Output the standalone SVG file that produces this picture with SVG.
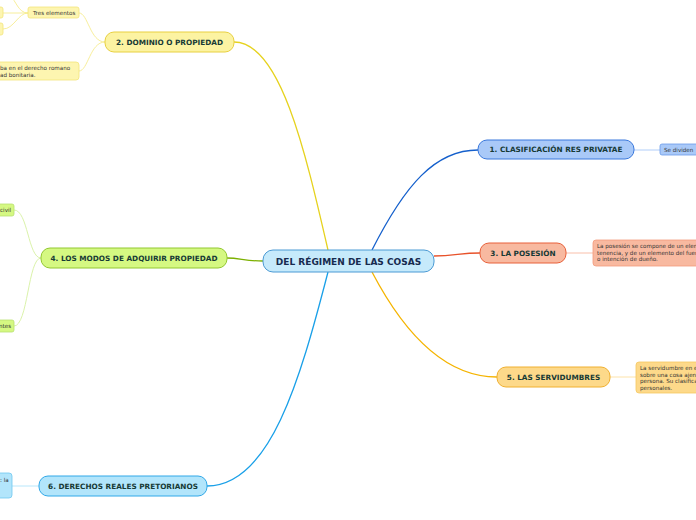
<svg xmlns="http://www.w3.org/2000/svg" width="696" height="520" viewBox="0 0 696 520">
<style>
.t{font-family:"DejaVu Sans",Verdana,sans-serif;font-weight:bold;fill:#173a35;text-anchor:middle;dominant-baseline:central;font-size:7.3px}
.s{font-family:"DejaVu Sans",Verdana,sans-serif;fill:#333;font-size:5.6px}
.c{fill:none;stroke-width:1.3}
.cl{fill:none;stroke-width:0.9}
</style>
<rect width="696" height="520" fill="#ffffff"/>
<g id="connectors">
<path class="c" d="M372,250 C405,185 435,150 478,150" stroke="#1560cc"/>
<path class="c" d="M434,256 C455,256 460,253 480,253" stroke="#e8522a"/>
<path class="c" d="M372,272 C405,335 445,377 497,377" stroke="#f5b400"/>
<path class="c" d="M328,250 C305,150 280,42 234,42" stroke="#e6d21e"/>
<path class="c" d="M263,261 C245,261 240,258 227,258" stroke="#7cb000"/>
<path class="c" d="M328,272 C300,380 270,486 207,486" stroke="#1aa0e8"/>
<path class="cl" d="M634,150 L660,150" stroke="#a8c8f8"/>
<path class="cl" d="M566,253 L593,253" stroke="#f8b8a0"/>
<path class="cl" d="M610,377 L636,377" stroke="#fde0a0"/>
<path class="cl" d="M105,42 C90,42 88,13 79,13" stroke="#f6ec90"/>
<path class="cl" d="M105,42 C90,42 88,71 79,71" stroke="#f6ec90"/>
<path class="cl" d="M28,13 C18,13 16,0 10,-4" stroke="#f6ec90"/>
<path class="cl" d="M28,13 L3,13" stroke="#f6ec90"/>
<path class="cl" d="M28,13 C18,13 14,29 3,29" stroke="#f6ec90"/>
<path class="cl" d="M41,258 C28,258 28,210 14,210" stroke="#d6f0a0"/>
<path class="cl" d="M41,258 C28,258 28,326 14,326" stroke="#d6f0a0"/>
<path class="cl" d="M39,486 L12,486" stroke="#b0e4fa"/>
</g>
<g id="central">
<rect x="263" y="250" width="171" height="22" rx="10" fill="#c6eafb" stroke="#4a9ad4" stroke-width="1"/>
<text class="t" x="348.5" y="261.5" style="fill:#172b4f;font-size:9px">DEL RÉGIMEN DE LAS COSAS</text>
</g>
<g id="n1">
<rect x="478" y="140" width="156" height="19" rx="9" fill="#a9c9f8" stroke="#3a78dc" stroke-width="1"/>
<text class="t" x="556" y="149.5">1. CLASIFICACIÓN RES PRIVATAE</text>
</g>
<g id="n1a">
<rect x="660" y="144" width="45" height="11" rx="2" fill="#a9c9f8" stroke="#6a9be8" stroke-width="0.8"/>
<text class="s" x="664" y="151.5">Se dividen</text>
</g>
<g id="n3">
<rect x="480" y="243" width="86" height="20" rx="9" fill="#f8b9a0" stroke="#e8603a" stroke-width="1"/>
<text class="t" x="523" y="253">3. LA POSESIÓN</text>
</g>
<g id="n3a">
<rect x="593" y="240" width="115" height="26" rx="3" fill="#f8b9a0" stroke="#f29a7c" stroke-width="0.8"/>
<text class="s" x="597" y="248">La posesión se compone de un elem</text>
<text class="s" x="597" y="254.5">tenencia, y de un elemento del fuer</text>
<text class="s" x="597" y="261">o intención de dueño.</text>
</g>
<g id="n5">
<rect x="497" y="367" width="113" height="20" rx="9" fill="#fdd98a" stroke="#f0b030" stroke-width="1"/>
<text class="t" x="553.5" y="377">5. LAS SERVIDUMBRES</text>
</g>
<g id="n5a">
<rect x="636" y="362" width="70" height="31" rx="3" fill="#fdd98a" stroke="#f5c860" stroke-width="0.8"/>
<text class="s" x="640" y="370">La servidumbre en e</text>
<text class="s" x="640" y="376.5">sobre una cosa ajen</text>
<text class="s" x="640" y="383">persona. Su clasifica</text>
<text class="s" x="640" y="389.5">personales.</text>
</g>
<g id="n2">
<rect x="105" y="32" width="129" height="20" rx="9" fill="#fcf3a2" stroke="#e8d040" stroke-width="1"/>
<text class="t" x="169.5" y="42">2. DOMINIO O PROPIEDAD</text>
</g>
<g id="n2a">
<rect x="28" y="7" width="51" height="11" rx="2" fill="#fdf5b0" stroke="#f2e47c" stroke-width="0.8"/>
<text class="s" x="33" y="14.5">Tres elementos</text>
</g>
<g id="n2a1">
<rect x="-20" y="7" width="23" height="11" rx="2" fill="#fdf5b0" stroke="#f2e47c" stroke-width="0.8"/>
</g>
<g id="n2a2">
<rect x="-20" y="23" width="23" height="12" rx="2" fill="#fdf5b0" stroke="#f2e47c" stroke-width="0.8"/>
</g>
<g id="n2b">
<rect x="-20" y="62" width="99" height="18" rx="3" fill="#fdf5b0" stroke="#f2e47c" stroke-width="0.8"/>
<text class="s" x="0" y="70">ba en el derecho romano</text>
<text class="s" x="0" y="76.5">ad bonitaria.</text>
</g>
<g id="n4">
<rect x="41" y="248" width="186" height="20" rx="9" fill="#d5f882" stroke="#92c830" stroke-width="1"/>
<text class="t" x="134" y="258">4. LOS MODOS DE ADQUIRIR PROPIEDAD</text>
</g>
<g id="n4a">
<rect x="-20" y="204" width="34" height="12" rx="2" fill="#d5f882" stroke="#b8e070" stroke-width="0.8"/>
<text class="s" x="0" y="211.8">civil</text>
</g>
<g id="n4b">
<rect x="-20" y="320" width="34" height="12" rx="2" fill="#d5f882" stroke="#b8e070" stroke-width="0.8"/>
<text class="s" x="-1" y="327.8">ntes</text>
</g>
<g id="n6">
<rect x="39" y="476" width="168" height="20" rx="9" fill="#b2e5fb" stroke="#30a8e8" stroke-width="1"/>
<text class="t" x="123" y="486">6. DERECHOS REALES PRETORIANOS</text>
</g>
<g id="n6a">
<rect x="-20" y="473" width="32" height="25" rx="3" fill="#b2e5fb" stroke="#70c8f0" stroke-width="0.8"/>
<text class="s" x="0" y="481.5">: la</text>
</g>
</svg>
